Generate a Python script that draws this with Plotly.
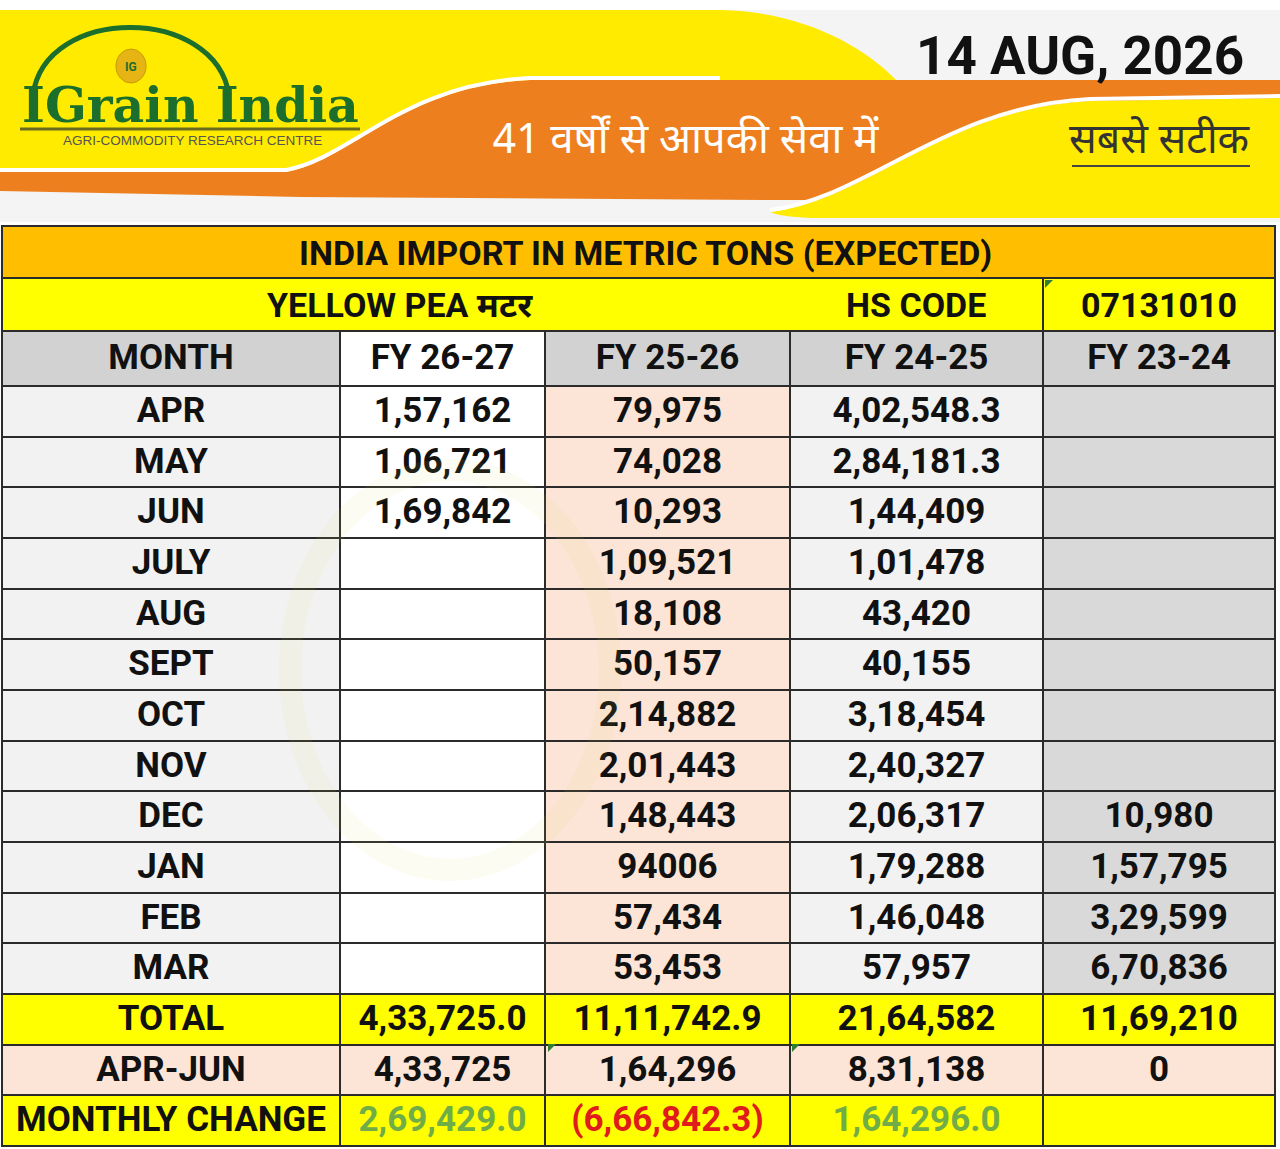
import plotly.graph_objects as go

# table contents (as printed in the sheet)
months = ["APR", "MAY", "JUN", "JULY", "AUG", "SEPT", "OCT", "NOV", "DEC", "JAN", "FEB", "MAR"]
summary_labels = ["TOTAL", "APR-JUN", "MONTHLY CHANGE"]
fy_labels = ["FY 26-27", "FY 25-26", "FY 24-25", "FY 23-24"]

fy_26_27 = ["1,57,162", "1,06,721", "1,69,842", "", "", "", "", "", "", "", "", ""]
fy_25_26 = ["79,975", "74,028", "10,293", "1,09,521", "18,108", "50,157",
            "2,14,882", "2,01,443", "1,48,443", "94006", "57,434", "53,453"]
fy_24_25 = ["4,02,548.3", "2,84,181.3", "1,44,409", "1,01,478", "43,420", "40,155",
            "3,18,454", "2,40,327", "2,06,317", "1,79,288", "1,46,048", "57,957"]
fy_23_24 = ["", "", "", "", "", "", "", "", "10,980", "1,57,795", "3,29,599", "6,70,836"]

total_row = ["4,33,725.0", "11,11,742.9", "21,64,582", "11,69,210"]
apr_jun_row = ["4,33,725", "1,64,296", "8,31,138", "0"]
monthly_change_row = ["2,69,429.0", "(6,66,842.3)", "1,64,296.0", ""]

title = "INDIA IMPORT IN METRIC TONS (EXPECTED)"
commodity = "YELLOW PEA मटर"
hs_label = "HS CODE"
hs_code = "07131010"
report_date = "14 AUG, 2026"

W, H = 1280, 1149
FONT = "Roboto, Lato, Noto Sans, sans-serif"
HINDI = "Noto Sans Devanagari, Lohit Devanagari, Noto Sans, sans-serif"
SERIF = "DejaVu Serif, Liberation Serif, serif"
DARK_GREEN = "#1b6e2c"
BORDER = "#2b2b2b"

# table geometry (pixels)
col_widths = [338, 205, 245, 253, 232]
header_h, row_h = 55, 50.67
TX0, TX1, TY0, TY1 = 2, 1275, 331, 1146

# ---- assemble table rows
series = [fy_26_27, fy_25_26, fy_24_25, fy_23_24]
rows = [["MONTH"] + fy_labels]
for i, m in enumerate(months):
    rows.append([m] + [s[i] for s in series])
rows.append([summary_labels[0]] + total_row)
rows.append([summary_labels[1]] + apr_jun_row)
rows.append([summary_labels[2]] + monthly_change_row)

palette = ["#f2f2f2", "#ffffff", "#fce4d6", "#d9d9d9", "#ffff00", "#d2d2d2"]
header_codes = [5, 1, 5, 5, 5]
month_codes = [0, 1, 2, 0, 3]
z = [header_codes] + [month_codes] * len(months) + [[4] * 5, [2] * 5, [4] * 5]
colorscale = [[i / (len(palette) - 1), c] for i, c in enumerate(palette)]

change_colors = ["#111111", "#70ad47", "#e01b1b", "#70ad47", "#111111"]

x_edges = [0]
for w in col_widths:
    x_edges.append(x_edges[-1] + w)
y_edges = [0, header_h]
for _ in range(len(rows) - 1):
    y_edges.append(y_edges[-1] + row_h)

tx, ty, tt, tc = [], [], [], []
for i, r in enumerate(rows):
    for j, v in enumerate(r):
        if not v:
            continue
        tx.append((x_edges[j] + x_edges[j + 1]) / 2)
        ty.append((y_edges[i] + y_edges[i + 1]) / 2 + 2)
        tt.append("<b>%s</b>" % v)
        tc.append(change_colors[j] if i == len(rows) - 1 else "#111111")

fig = go.Figure()
fig.add_trace(go.Scatter(x=[], y=[], showlegend=False, hoverinfo="skip"))
fig.add_trace(go.Heatmap(z=z, x=x_edges, y=y_edges, colorscale=colorscale, zmin=0,
                         zmax=len(palette) - 1, showscale=False, xgap=2, ygap=2,
                         hoverinfo="skip", xaxis="x2", yaxis="y2"))
fig.add_trace(go.Scatter(x=tx, y=ty, text=tt, mode="text", textposition="middle center",
                         textfont=dict(family=FONT, size=35, color=tc),
                         hoverinfo="skip", showlegend=False, xaxis="x2", yaxis="y2"))

shapes = []


def rect(x0, y0, x1, y1, fill, line=None, width=0, layer="below"):
    shapes.append(dict(type="rect", xref="x", yref="y", x0=x0, y0=y0, x1=x1, y1=y1,
                       fillcolor=fill, line=dict(color=line or fill, width=width), layer=layer))


def path(d, fill=None, line=None, width=0, layer="below"):
    s = dict(type="path", xref="x", yref="y", path=d, layer=layer,
             line=dict(color=line or "rgba(0,0,0,0)", width=width))
    if fill:
        s["fillcolor"] = fill
    shapes.append(s)


# banner
rect(0, 0, W, H, "#ffffff")
rect(0, 10, W, 222, "#f4f4f4")
path("M0,10 L722,10 C800,12 862,44 898,82 L898,176 L0,176 Z", fill="#ffeb00")
path("M0,172 L286,172 C352,160 402,86 530,80 L1280,80 L1280,200 L780,200 L300,197 L0,191 Z",
     fill="#ee7f1f")
path("M0,170 L286,170 C352,158 402,84 530,78 L720,78", line="#ffffff", width=4)
path("M770,212 C868,200 945,108 1090,101 L1280,98 L1280,218 L810,218 C790,217 776,215 770,212 Z",
     fill="#ffeb00")
path("M770,210 C868,198 945,106 1090,99 L1280,96", line="#ffffff", width=4)
path("M1072,166 L1250,166", line="#444444", width=2)

# logo
path("M33,95 C45,5 215,5 229,95", line=DARK_GREEN, width=5)
shapes.append(dict(type="circle", xref="x", yref="y", x0=116, y0=49, x1=146, y1=83,
                   fillcolor="#e7b416", line=dict(color="#c99a00", width=1)))
path("M20,129 L360,129", line="#6b6b1e", width=3)

# faint watermark ring
shapes.append(dict(type="circle", xref="x", yref="y", x0=290, y0=470, x1=610, y1=870,
                   line=dict(color="rgba(215,215,90,0.08)", width=22), layer="above"))

# table frame (shows through the cell gaps)
rect(TX0 - 1, TY0 - 1, TX1 + 1, TY1 + 1, BORDER)

# merged header rows above the table
rect(TX0, 226, TX1, 278, "#ffbf00", line=BORDER, width=2, layer="above")
rect(TX0, 278, TX1, TY0, "#ffff00", line=BORDER, width=2, layer="above")
path("M1043,278 L1043,331", line=BORDER, width=2, layer="above")

# green comment markers
for cx, cy in [(1045, 280), (548, 1044), (792, 1044)]:
    path("M%d,%d L%d,%d L%d,%d Z" % (cx, cy, cx + 8, cy, cx, cy + 8),
         fill="#2e7d32", layer="above")

ann = []


def text(x, y, s, size, color="#111111", family=FONT, **kw):
    ann.append(dict(x=x, y=y, xref="x", yref="y", text=s, showarrow=False,
                    font=dict(family=family, size=size, color=color),
                    xanchor="center", yanchor="middle", **kw))


text(1080, 56, "<b>%s</b>" % report_date, 53)
text(686, 142, "41 वर्षों से आपकी सेवा में", 42, color="#ffffff", family=HINDI)
text(1160, 142, "सबसे सटीक", 41, color="#333333", family=HINDI)
text(190, 105, "<b>IGrain India</b>", 49, color=DARK_GREEN, family=SERIF)
text(192, 140, "AGRI-COMMODITY RESEARCH CENTRE", 13.5, color="#555555",
     family="Liberation Sans, Arial, sans-serif")
text(131, 67, "<b>IG</b>", 12, color=DARK_GREEN, family=FONT)

text(645, 253, "<b>%s</b>" % title, 34)
text(400, 305, "<b>%s</b>" % commodity, 34)
text(916, 305, "<b>%s</b>" % hs_label, 34)
text(1159, 305, "<b>%s</b>" % hs_code, 34)

fig.update_layout(
    width=W, height=H,
    margin=dict(l=0, r=0, t=0, b=0),
    paper_bgcolor="#ffffff", plot_bgcolor="rgba(0,0,0,0)",
    xaxis=dict(range=[0, W], visible=False, fixedrange=True, domain=[0, 1]),
    yaxis=dict(range=[H, 0], visible=False, fixedrange=True, domain=[0, 1]),
    xaxis2=dict(range=[0, x_edges[-1]], visible=False, fixedrange=True, anchor="y2",
                domain=[TX0 / W, TX1 / W]),
    yaxis2=dict(range=[y_edges[-1], 0], visible=False, fixedrange=True, anchor="x2",
                domain=[1 - TY1 / H, 1 - TY0 / H]),
    shapes=shapes, annotations=ann, showlegend=False,
)

fig.write_html("out.html", config={"displayModeBar": False},
               post_script="document.body.style.margin='0';")
